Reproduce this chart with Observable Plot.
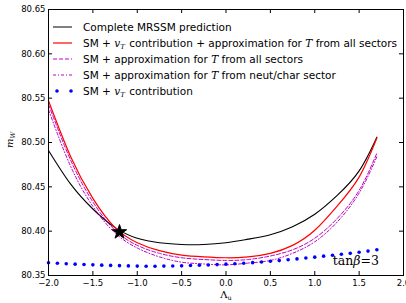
<!DOCTYPE html>
<html><head><meta charset="utf-8">
<script src="https://cdn.jsdelivr.net/npm/d3@7"></script>
<script src="https://cdn.jsdelivr.net/npm/@observablehq/plot@0.6"></script>
<style>html,body{margin:0;padding:0;overflow:hidden;background:#fff}</style>
</head><body><div id="chart"></div>
<script>
// ---- data ----
const lambda = [-2, -1.75, -1.5, -1.25, -1.0, -0.75, -0.5, -0.25, 0, 0.25, 0.5, 0.75, 1.0, 1.25, 1.5, 1.7];
const complete      = [80.491, 80.453, 80.425, 80.404, 80.392, 80.387, 80.385, 80.385, 80.387, 80.391, 80.396, 80.405, 80.419, 80.440, 80.468, 80.506];
const smVtApproxAll = [80.547, 80.484, 80.437, 80.404, 80.387, 80.378, 80.373, 80.371, 80.370, 80.371, 80.375, 80.384, 80.401, 80.428, 80.461, 80.505];
const smApproxAll   = [80.543, 80.480, 80.433, 80.401, 80.384, 80.375, 80.370, 80.368, 80.367, 80.368, 80.372, 80.379, 80.392, 80.414, 80.446, 80.488];
const smApproxNC    = [80.537, 80.473, 80.428, 80.398, 80.381, 80.371, 80.365, 80.363, 80.362, 80.364, 80.367, 80.375, 80.388, 80.410, 80.443, 80.484];
const vtLambda = [-2.0,-1.9,-1.8,-1.7,-1.6,-1.5,-1.4,-1.3,-1.2,-1.1,-1.0,-0.9,-0.8,-0.7,-0.6,-0.5,-0.4,-0.3,-0.2,-0.1,0.0,0.1,0.2,0.3,0.4,0.5,0.6,0.7,0.8,0.9,1.0,1.1,1.2,1.3,1.4,1.5,1.6,1.7];
const smVt = [80.3643,80.3638,80.3633,80.3628,80.3624,80.3620,80.3617,80.3614,80.3611,80.3608,80.3606,80.3605,80.3605,80.3606,80.3607,80.3609,80.3612,80.3615,80.3619,80.3623,80.3628,80.3633,80.3639,80.3645,80.3652,80.3660,80.3668,80.3677,80.3687,80.3697,80.3707,80.3718,80.3728,80.3739,80.3750,80.3762,80.3775,80.3790];
const starPoint = [{x: -1.2, y: 80.399}];
const xTicks = [-2.0, -1.5, -1.0, -0.5, 0.0, 0.5, 1.0, 1.5, 2.0];
const yTicks = [80.35, 80.40, 80.45, 80.50, 80.55, 80.60, 80.65];

const W = 406, H = 303, mL = 48, mR = 3, mT = 9, mB = 28;
const pH = H - mT - mB, pW = W - mL - mR, tk = 4;
const MAG = "#bf00bf";

const rows = (ys) => lambda.map((x, i) => ({x, y: ys[i]}));
const vtRows = vtLambda.map((x, i) => ({x, y: smVt[i]}));

const svg = Plot.plot({
  width: W, height: H,
  marginLeft: mL, marginRight: mR, marginTop: mT, marginBottom: mB,
  style: {fontFamily: "DejaVu Sans", background: "#fff", color: "#000"},
  x: {domain: [-2, 2], axis: null},
  y: {domain: [80.35, 80.65], axis: null},
  marks: [
    Plot.line(rows(complete), {x: "x", y: "y", stroke: "black", strokeWidth: 1.1, curve: "natural"}),
    Plot.line(rows(smVtApproxAll), {x: "x", y: "y", stroke: "#ff0000", strokeWidth: 1.2, curve: "natural"}),
    Plot.line(rows(smApproxAll), {x: "x", y: "y", stroke: MAG, strokeWidth: 1, strokeDasharray: "4,2", curve: "natural"}),
    Plot.line(rows(smApproxNC), {x: "x", y: "y", stroke: MAG, strokeWidth: 1, strokeDasharray: "3,2,1,2", curve: "natural"}),
    Plot.dot(vtRows, {x: "x", y: "y", r: 1.8, fill: "#0000ff", stroke: "none"}),
    Plot.dot(starPoint, {x: "x", y: "y", symbol: "star", r: 4.5, fill: "black", stroke: "black", strokeWidth: 1}),
    Plot.tickX(xTicks, {x: d => d, insetTop: pH - tk, stroke: "black"}),
    Plot.tickX(xTicks, {x: d => d, insetBottom: pH - tk, stroke: "black"}),
    Plot.tickY(yTicks, {y: d => d, insetRight: pW - tk, stroke: "black"}),
    Plot.tickY(yTicks, {y: d => d, insetLeft: pW - tk, stroke: "black"}),
    Plot.frame({stroke: "black"}),
    Plot.axisX(xTicks, {tickSize: 0, tickPadding: 4, fontSize: 8.5, label: null,
      tickFormat: d => d.toFixed(1).replace("-", "\u2212")}),
    Plot.axisY(yTicks, {tickSize: 0, tickPadding: 3, fontSize: 8.5, label: null,
      tickFormat: d => d.toFixed(2)})
  ]
});
document.getElementById("chart").appendChild(svg);

// ---- legend & annotations ----
const root = d3.select(svg);
const serif = "'DejaVu Serif', 'Liberation Serif', serif";
const legendItems = [
  {kind: "line", stroke: "black", dash: null, parts: ["Complete MRSSM prediction"]},
  {kind: "line", stroke: "#ff0000", dash: null, parts: ["SM + ", {i: "v", sub: "T"}, " contribution + approximation for ", {i: "T"}, " from all sectors"]},
  {kind: "line", stroke: MAG, dash: "4,2", parts: ["SM + approximation for ", {i: "T"}, " from all sectors"]},
  {kind: "line", stroke: MAG, dash: "3,2,1,2", parts: ["SM + approximation for ", {i: "T"}, " from neut/char sector"]},
  {kind: "dots", stroke: "#0000ff", parts: ["SM + ", {i: "v", sub: "T"}, " contribution"]}
];
const lg = root.append("g").attr("font-family", "DejaVu Sans").attr("font-size", 10.5).attr("text-anchor", "start");
legendItems.forEach((it, k) => {
  const y = 27 + k * 16;
  if (it.kind === "line") {
    lg.append("line").attr("x1", 53).attr("x2", 72).attr("y1", y).attr("y2", y)
      .attr("stroke", it.stroke).attr("stroke-width", it.stroke === "#ff0000" ? 1.2 : 1)
      .attr("stroke-dasharray", it.dash);
  } else {
    [57, 71].forEach(cx => lg.append("circle").attr("cx", cx).attr("cy", y).attr("r", 1.8).attr("fill", it.stroke));
  }
  const t = lg.append("text").attr("x", 83).attr("y", y).attr("dy", "0.36em").attr("text-anchor", "start");
  it.parts.forEach(p => {
    if (typeof p === "string") t.append("tspan").text(p);
    else {
      t.append("tspan").attr("font-family", serif).attr("font-style", "italic").text(p.i);
      if (p.sub) {
        t.append("tspan").attr("font-family", serif).attr("font-style", "italic").attr("font-size", 7).attr("dy", 2.5).text(p.sub);
        t.append("tspan").attr("dy", -2.5).text("\u200A");
      }
    }
  });
});

// tan beta annotation
const tb = root.append("text").attr("x", 379).attr("y", 265).attr("text-anchor", "end")
  .attr("font-family", serif).attr("font-size", 12.5);
tb.append("tspan").text("tan");
tb.append("tspan").attr("font-style", "italic").text("\u03B2");
tb.append("tspan").text("=3");

// axis labels
const xl = root.append("text").attr("x", 226).attr("y", 298).attr("text-anchor", "middle")
  .attr("font-family", serif).attr("font-size", 10);
xl.append("tspan").text("\u039B");
xl.append("tspan").attr("font-size", 6.5).attr("dy", 2).text("u");

const yl = root.append("text").attr("transform", "translate(13,140) rotate(-90)").attr("text-anchor", "middle")
  .attr("font-family", serif).attr("font-size", 10);
yl.append("tspan").attr("font-style", "italic").text("m");
yl.append("tspan").attr("font-style", "italic").attr("font-size", 6.5).attr("dy", 2).text("W");
</script>
</body></html>
